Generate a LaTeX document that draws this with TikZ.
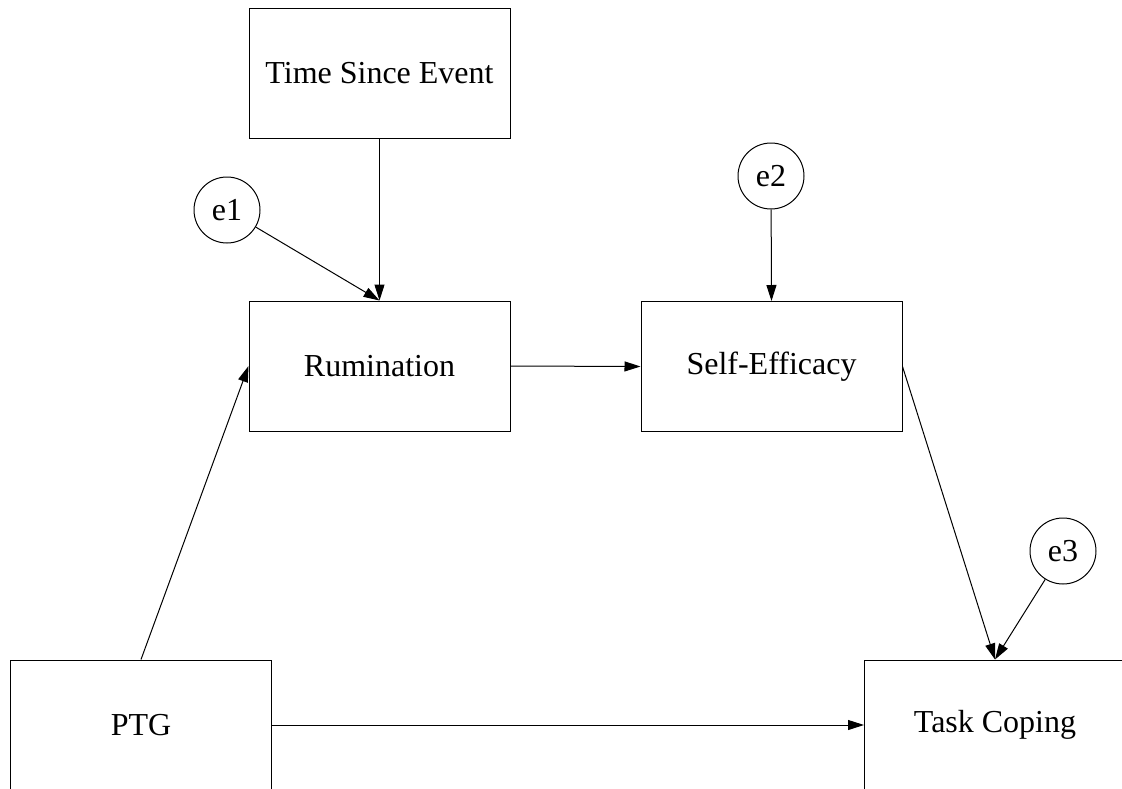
\documentclass[tikz,border=0pt]{standalone}
\usepackage{fontspec}
\setmainfont{Liberation Serif}
\usetikzlibrary{arrows.meta}
\begin{document}
\begin{tikzpicture}[x=0.75pt,y=-0.75pt,
  every node/.style={font=\fontsize{24}{28}\selectfont},
  box/.style={draw,line width=0.75pt,minimum width=195.75pt,minimum height=97.5pt,inner sep=0pt},
  err/.style={draw,circle,line width=0.75pt,minimum size=49.5pt,inner sep=0pt},
  path/.style={line width=0.75pt,-{Triangle[length=12pt,width=7.5pt]}}]
\useasboundingbox (0,0) rectangle (1122,789);
\clip (0,0) rectangle (1122,789);
\fill[white] (0,0) rectangle (1122,789);
\node[box] (tse) at (379.5,73.5) {Time Since Event};
\node[box] (rum) at (379.5,366) {Rumination};
\node[box] (se) at (771.5,366.5) {Self-Efficacy};
\node[box] (ptg) at (141,725) {PTG};
\node[box] (tc) at (995,725) {Task Coping};
\node[err] (e1) at (227,210) {e1};
\node[err] (e2) at (771,176) {e2};
\node[err] (e3) at (1063,551) {e3};
\draw[path] (tse.south) -- (rum.north);
\draw[path] (e1) -- (rum.north);
\draw[path] (e2) -- (se.north);
\draw[path] (rum.east) -- (se.west);
\draw[path] (ptg.north) -- (rum.west);
\draw[path] (se.east) -- (tc.north);
\draw[path] (e3) -- (tc.north);
\draw[path] (ptg.east) -- (tc.west);
\end{tikzpicture}
\end{document}
